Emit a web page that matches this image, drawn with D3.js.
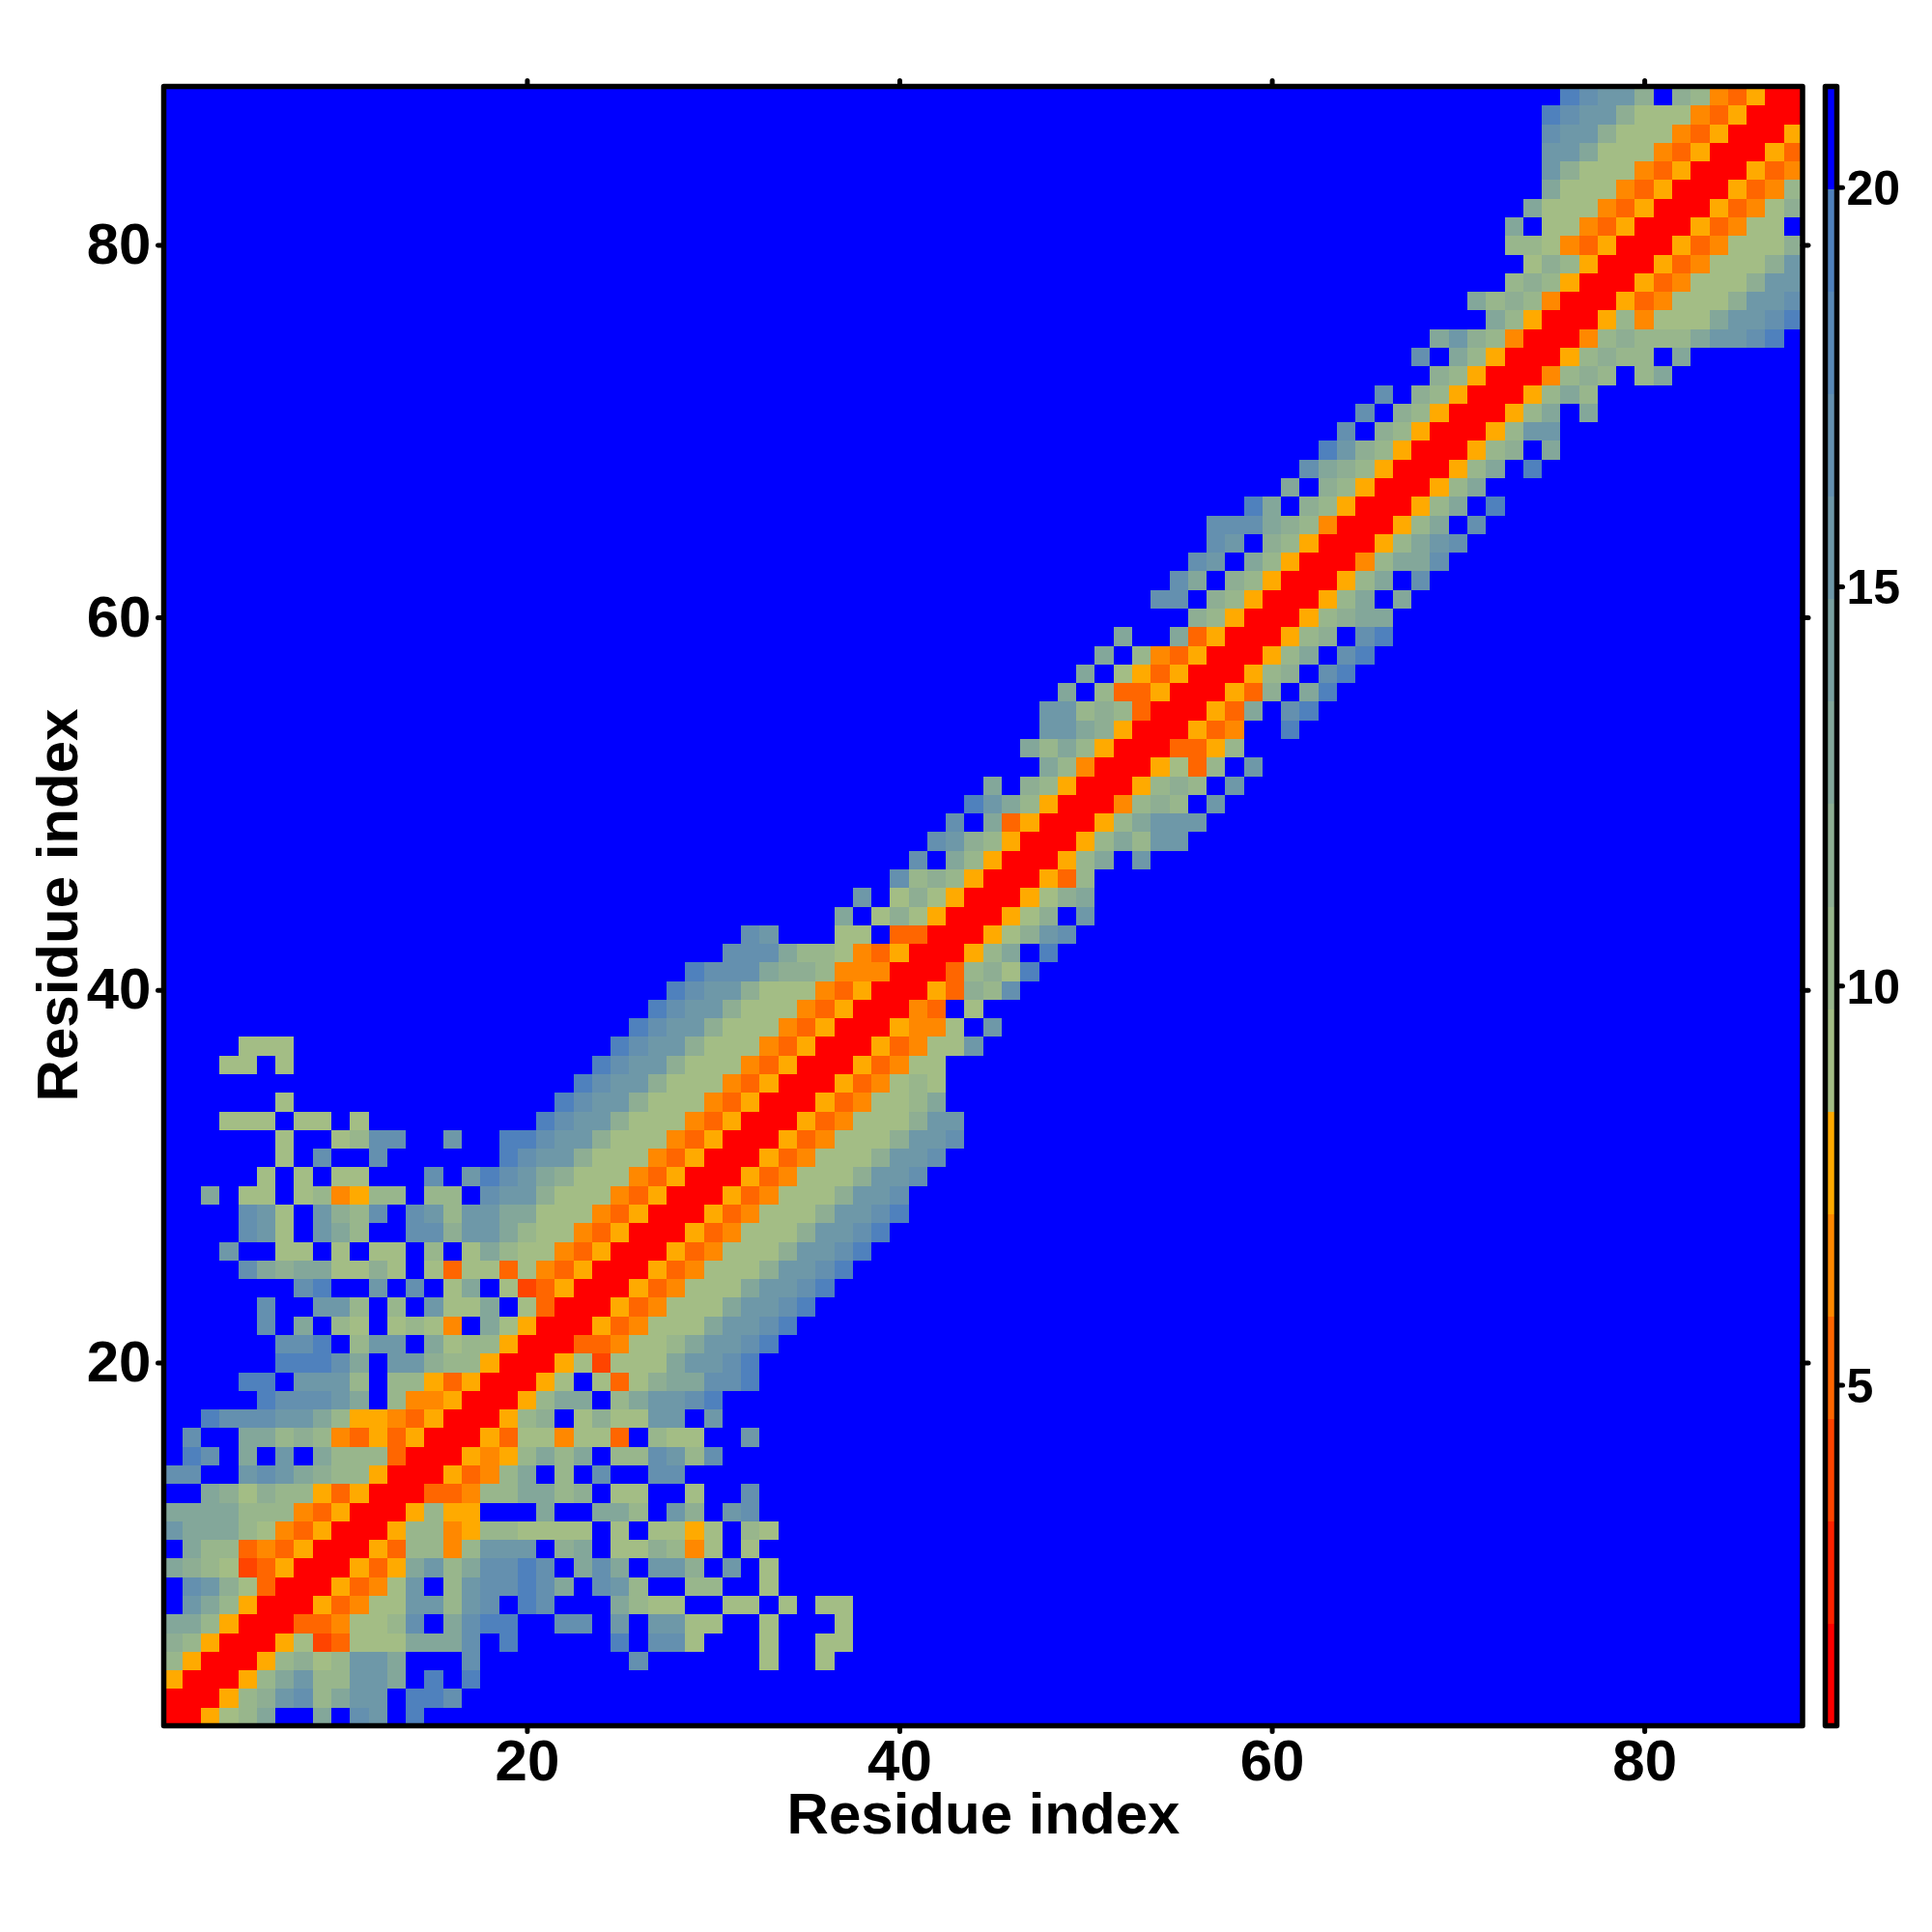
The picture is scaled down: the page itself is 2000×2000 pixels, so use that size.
<!DOCTYPE html>
<html><head><meta charset="utf-8">
<script src="https://cdn.jsdelivr.net/npm/d3@7"></script>
<style>html,body{margin:0;padding:0;background:#fff}svg{display:block}text{font-family:"Liberation Sans",Arial,sans-serif;font-weight:bold;fill:#000}</style>
</head><body><svg id="c" width="2000" height="2000"></svg>
<script>
// Contact-distance map, one entry per residue (y = 1 first). "col:codes", "." = beyond the scale.
const rows = [
"1:11678a..a.cb.d","1:111689bc8abb.ddc","1:611168ab88bba.d.d","1:8611168978bba...c 26:c 33:7 36:7",
"1:9861116734777aaac.d 25:d.cc7 33:7 36:77","1:aa86111445778c.acdd 22:cc.b.bb77 33:7 37:7",
"1:.ba8611164577bb8bc. 20:dc 25:a877 31:77 34:7 36:77","1:.cb9741116457b.8bcc 20:dca.cb8 29:88 33:7",
"1:a987346111646ab8acc 20:dc.aca 27:bb9.b.7","1:.a884546111648858bb 20:b.9a.779857.7",
"1:baaa875461116885688 20:7777.7.7767.87","1:aaaa8885461116866 21:a 24:aa8 28:b9 31:bc",
"1:..a9798864611144588 20:aa89.77..7..c","1:cc..bcba98861116458 20:a.8.c..cc",
"1:.dc.a.b.a8884111656 20:8a8a.88cb8c","1:.c..aa8985464611164 20:775774.877..b",
"1:..dcccbba8665461116 20:89.7977bb.b","1:.....dcccba.8556111 20:68aa.8abbcd",
"1:....dd.bbb8.8864611 20:167.7479aaccd","1:......dddca.bb988611 21:1673777abbcd",
"7:ccd.8bb.a7886111445778abbcd","6:c.a.87.7875.a76111645777abbcd",
"6:c..bb8.8.b77a.74111645777abbcd","8:cd..b.c.7a.7346111645777abbcd",
"5:ca9aa7797.7477475461116457779bbcd","4:b..77.7.77.8.7a8775461116457779bbcd",
"5:cb7.ba8..cc9bba8775461116457779bbcd","5:cb7.b98c.cb8bbaa7775461116457779bbcd",
"3:a.77.785688.88.cbb97775461116457779bbc","6:7.7.77...c.bdcba97775461116457779bbc",
"7:7.c..c......dcbb97775461116457779bbc","7:7..78cc..b..ddcbb97775461116457779bbc",
"4:777.77.7 21:dcbb97775461116457779bb","7:7 22:dcbb9777546111645778a",
"23:dcbb9777546111645787","4:77.7 24:dcbb977754611164577",
"5:777 25:dcbb977754611164577b","26:dcbb97775461116557.b",
"27:dcbb977754611154.7","28:dcbb97775461116498c",
"29:dccca9985551114897d","31:ccca88754611168a.d",
"32:cb 37:77.44111679bc","37:a.7976111679.b",
"38:b.7976111679a","40:c8986111648",
"41:c.a8611168a.b","42:cb98611168a8bb",
"43:c.a4611168abbb","44:dba861115898.b",
"45:a.9861116898.b","48:a851116748.b",
"47:a8a861114468","48:bba96111645 61:d",
"48:bb898411164a.cd","49:a.8446111649.ad",
"50:a.7646111689.cd","51:a.854611168a.cd",
"52:a 55:a46111689.cd","56:986111689aa",
"54:cc.98611168a.a","55:ca.98611168a.c",
"56:cb.a8611158aac","57:cb.98611168abc",
"57:ccca98511168a.c","59:da.98611168a.d",
"61:a.98611168a","62:ca98611168a.d",
"63:db986111689.a","64:c.98611168bb",
"65:c.98611168a.a","66:c.98611168a8",
"69:9861115898.8a","68:c.a8611168988.a",
"69:ab985111589888abbcd","72:a86111685777abbcd",
"71:a89851116457779bbc","73:89861116457779bb",
"74:79861116457779b","73:8875461116457779",
"73:a.7754611164577","74:a77754611164579",
"75:a7775461116458","75:b9777546111645",
"75:bba77754611164","75:cbb97775461116",
"75:dcbb9777546111","76:dcbb9.9854611"];
const codes  = ["1","3","4","5","6","7","8","9","a","b","c","d","."];
const values = [1.4,3.9,5.2,6.5,7.8,9.0,10.4,11.6,12.9,15.5,17.0,19.3,21.0];
const bandColors = ["#ff0000","#ff2200","#ff4400","#ff6600","#ff8800","#ffaa00","#a3bd85","#98b68c","#8eae93","#83a79a","#79a0a1","#6e98a8","#6490af","#5989b6","#4f81bd","#0000ff"];
const axisTicks = [20,40,60,80];
const barTicks = [5,10,15,20];
const nRes = 88;
const xTitle = "Residue index", yTitle = "Residue index";

const valueOf = new Map(codes.map((c,i)=>[c,values[i]]));
const data = [];
rows.forEach((row,ri)=>{
  const line = new Array(nRes).fill(21);
  row.split(" ").forEach(seg=>{
    const [s,cells] = seg.split(":");
    [...cells].forEach((ch,k)=>{ line[+s-1+k] = valueOf.get(ch); });
  });
  line.forEach((v,ci)=>data.push({x:ci+1,y:ri+1,v}));
});

const svg = d3.select("#c");
const L=169.5,R=1866,T=89.5,B=1786.5,FW=5.5;
const x = d3.scaleLinear().domain([0.5,88.5]).range([L,R]);
const y = d3.scaleLinear().domain([0.5,88.5]).range([B,T]);
const col = d3.scaleQuantize().domain([0.73,21.26]).range(bandColors);

svg.append("g").attr("shape-rendering","crispEdges").selectAll("rect").data(data).join("rect")
  .attr("x",d=>x(d.x-0.5)).attr("y",d=>y(d.y+0.5))
  .attr("width",d=>x(d.x+0.5)-x(d.x-0.5)+0.5).attr("height",d=>y(d.y-0.5)-y(d.y+0.5)+0.5)
  .attr("fill",d=>col(d.v));

function styleAxis(g,size){
  g.select(".domain").remove();
  g.selectAll(".tick line").attr("stroke","#000").attr("stroke-width",5).attr("stroke-linecap","round");
  g.selectAll(".tick text").attr("font-size",size).attr("fill","#000");
}
svg.append("g").attr("transform",`translate(0,${B})`)
  .call(d3.axisBottom(x).tickValues(axisTicks).tickSize(6).tickPadding(4).tickFormat(d3.format("d")))
  .call(g=>styleAxis(g,60)).call(g=>g.selectAll(".tick text").attr("dy","0.78em"));
svg.append("g").attr("transform",`translate(0,${T})`)
  .call(d3.axisTop(x).tickValues(axisTicks).tickSize(6).tickFormat("")).call(g=>styleAxis(g,60));
svg.append("g").attr("transform",`translate(${L},0)`)
  .call(d3.axisLeft(y).tickValues(axisTicks).tickSize(6).tickPadding(7).tickFormat(d3.format("d")))
  .call(g=>styleAxis(g,60));
svg.append("g").attr("transform",`translate(${R},0)`)
  .call(d3.axisRight(y).tickValues(axisTicks).tickSize(6).tickFormat("")).call(g=>styleAxis(g,60));

svg.append("rect").attr("x",L).attr("y",T).attr("width",R-L).attr("height",B-T)
  .attr("fill","none").attr("stroke","#000").attr("stroke-width",FW).attr("stroke-linejoin","round");

svg.append("text").attr("x",1018).attr("y",1898).attr("text-anchor","middle").attr("font-size",60).text(xTitle);
svg.append("text").attr("transform","translate(80,937) rotate(-90)").attr("text-anchor","middle").attr("font-size",60).text(yTitle);

// colour bar
const BL=1889.5,BR=1901.5;
const by = d3.scaleLinear().domain([0.73,21.26]).range([B,T]);
svg.append("g").attr("shape-rendering","crispEdges").selectAll("rect").data(bandColors).join("rect")
  .attr("x",BL).attr("width",BR-BL)
  .attr("y",c=>by(col.invertExtent(c)[1]))
  .attr("height",c=>by(col.invertExtent(c)[0])-by(col.invertExtent(c)[1])+0.5)
  .attr("fill",c=>c);
svg.append("rect").attr("x",BL).attr("y",T).attr("width",BR-BL).attr("height",B-T)
  .attr("fill","none").attr("stroke","#000").attr("stroke-width",FW).attr("stroke-linejoin","round");
svg.append("g").attr("transform",`translate(${BR},0)`)
  .call(d3.axisRight(by).tickValues(barTicks).tickSize(6).tickPadding(4).tickFormat(d3.format("d")))
  .call(g=>styleAxis(g,50)).call(g=>g.selectAll(".tick text").attr("dy","0.36em"));
</script></body></html>
